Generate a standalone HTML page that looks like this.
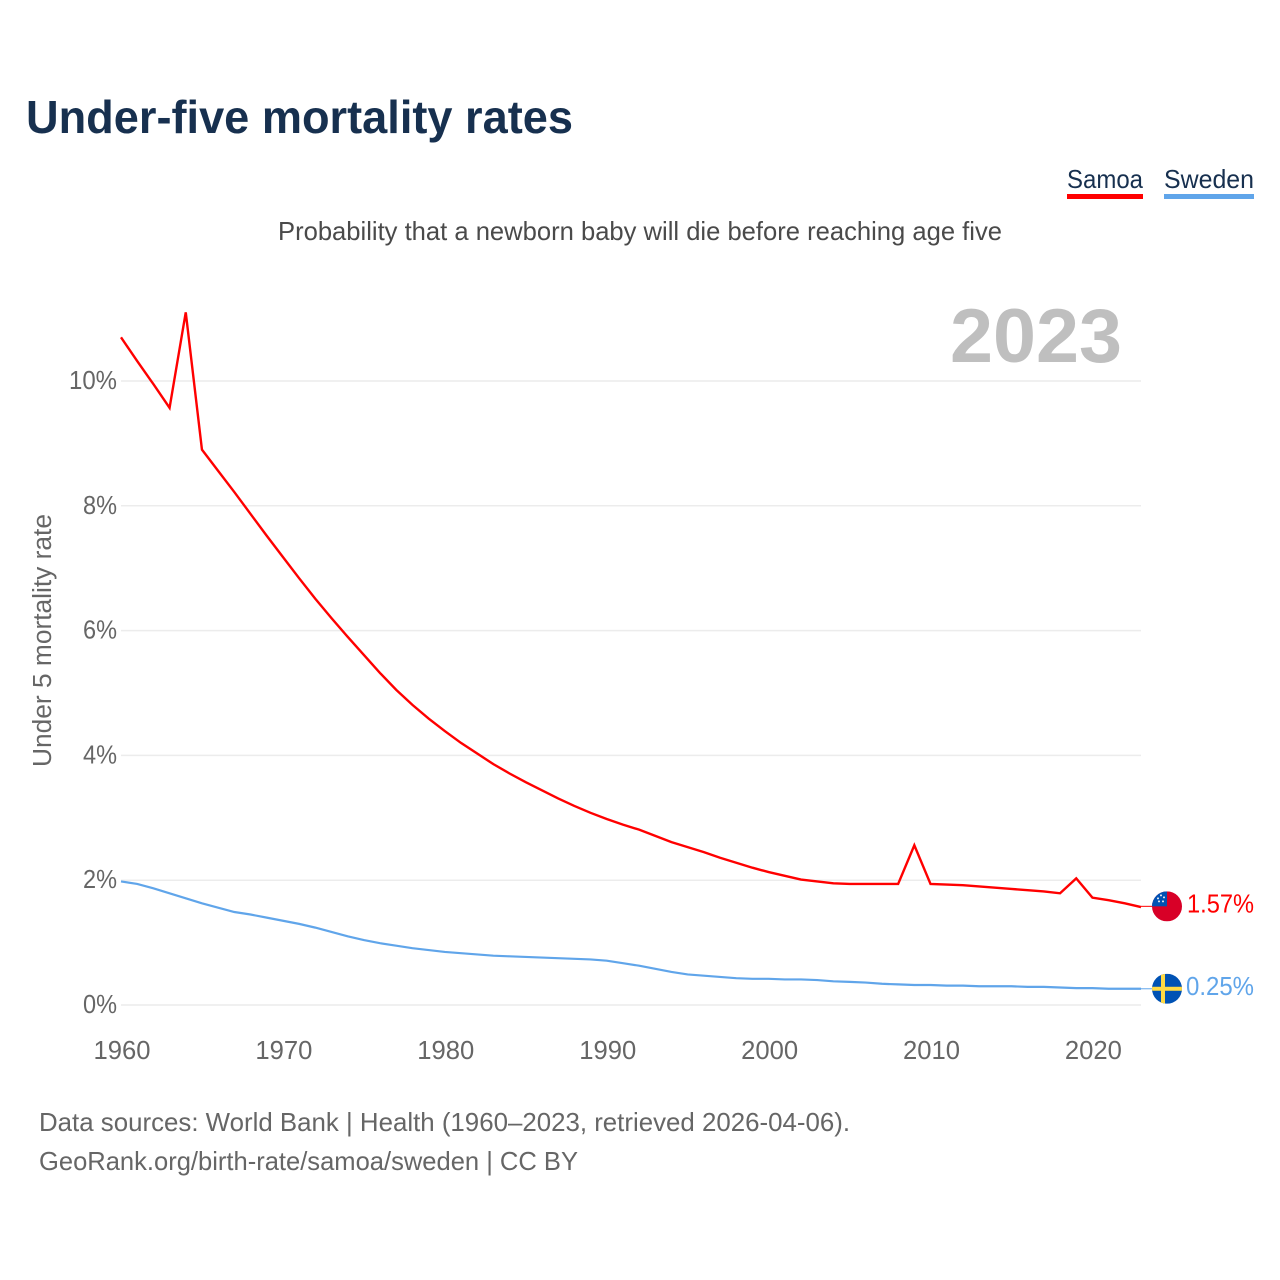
<!DOCTYPE html>
<html lang="en">
<head>
<meta charset="utf-8">
<title>Under-five mortality rates</title>
<style>
html,body{margin:0;padding:0;background:#fff;width:1280px;height:1280px;overflow:hidden}
svg{display:block}
text{font-family:"Liberation Sans",sans-serif}
</style>
</head>
<body>
<svg id="chart" xmlns="http://www.w3.org/2000/svg" width="1280" height="1280" viewBox="0 0 1280 1280">
  <defs>
    <clipPath id="clip-samoa"><circle id="clip-samoa-c" cx="0" cy="0" r="15"/></clipPath>
    <clipPath id="clip-sweden"><circle id="clip-sweden-c" cx="0" cy="0" r="15"/></clipPath>
  </defs>
  <rect width="1280" height="1280" fill="#fff"/>
  <text x="26" y="133" font-size="46" font-weight="700" fill="#17304f" textLength="547" lengthAdjust="spacingAndGlyphs">Under-five mortality rates</text>

  <g>
    <text x="1067" y="188" font-size="26" fill="#17304f" textLength="76" lengthAdjust="spacingAndGlyphs">Samoa</text>
    <rect x="1067" y="194" width="76" height="5" fill="#ff0000"/>
  </g>
  <g>
    <text x="1164" y="188" font-size="26" fill="#17304f" textLength="90" lengthAdjust="spacingAndGlyphs">Sweden</text>
    <rect x="1164" y="194" width="90" height="5" fill="#60a5ea"/>
  </g>

  <text x="278" y="240" font-size="26" fill="#4a4a4a" textLength="724" lengthAdjust="spacingAndGlyphs">Probability that a newborn baby will die before reaching age five</text>
  <text x="950" y="362" font-size="76" font-weight="700" fill="#bfbfbf" textLength="172" lengthAdjust="spacingAndGlyphs">2023</text>

  <g id="grid"></g>
  <g id="yticks"></g>
  <g id="xticks"></g>
  <text transform="translate(51,767) rotate(-90)" x="0" y="0" font-size="25.5" fill="#666" textLength="253" lengthAdjust="spacingAndGlyphs">Under 5 mortality rate</text>

  <g id="series"></g>
  <g id="endmarks"></g>

  <text x="39" y="1131" font-size="26" fill="#666" textLength="811" lengthAdjust="spacingAndGlyphs">Data sources: World Bank | Health (1960–2023, retrieved 2026-04-06).</text>
  <text x="39" y="1170" font-size="26" fill="#666" textLength="539" lengthAdjust="spacingAndGlyphs">GeoRank.org/birth-rate/samoa/sweden | CC BY</text>
</svg>
<script>
const years = [1960,1961,1962,1963,1964,1965,1966,1967,1968,1969,1970,1971,1972,1973,1974,1975,1976,1977,1978,1979,1980,1981,1982,1983,1984,1985,1986,1987,1988,1989,1990,1991,1992,1993,1994,1995,1996,1997,1998,1999,2000,2001,2002,2003,2004,2005,2006,2007,2008,2009,2010,2011,2012,2013,2014,2015,2016,2017,2018,2019,2020,2021,2022,2023];
const samoaValues = [10.7,10.32,9.95,9.57,11.1,8.9,8.56,8.22,7.87,7.52,7.18,6.84,6.51,6.2,5.9,5.61,5.32,5.05,4.81,4.59,4.39,4.2,4.03,3.86,3.71,3.57,3.44,3.31,3.19,3.08,2.98,2.89,2.81,2.71,2.61,2.53,2.45,2.36,2.28,2.2,2.13,2.07,2.01,1.98,1.95,1.94,1.94,1.94,1.94,2.56,1.94,1.93,1.92,1.9,1.88,1.86,1.84,1.82,1.79,2.03,1.72,1.68,1.63,1.57];
const swedenValues = [1.98,1.94,1.87,1.79,1.71,1.63,1.56,1.49,1.45,1.4,1.35,1.3,1.24,1.17,1.1,1.04,0.99,0.95,0.91,0.88,0.85,0.83,0.81,0.79,0.78,0.77,0.76,0.75,0.74,0.73,0.71,0.67,0.63,0.58,0.53,0.49,0.47,0.45,0.43,0.42,0.42,0.41,0.41,0.4,0.38,0.37,0.36,0.34,0.33,0.32,0.32,0.31,0.31,0.3,0.3,0.3,0.29,0.29,0.28,0.27,0.27,0.26,0.26,0.26];
const endValueLabels = ['1.57%','0.25%'];
const yTickValues = [0,2,4,6,8,10];
const xTickValues = [1960,1970,1980,1990,2000,2010,2020];

const NS = 'http://www.w3.org/2000/svg';
const x = function (year) { return 121 + (year - 1960) * (1141 - 121) / (2023 - 1960); };
const y = function (value) { return 1005 - value * 62.4; };
function make(tag, parent, props) {
  const el = document.createElementNS(NS, tag);
  for (const k in props) el.setAttribute(k, props[k]);
  parent.appendChild(el);
  return el;
}

const grid = document.getElementById('grid');
const yticks = document.getElementById('yticks');
yTickValues.forEach(function (v) {
  const line = make('line', grid, {x1: 121, x2: 1141, y1: y(v), y2: y(v), stroke: '#ececec', 'stroke-width': 1.5});
  
  
  const label = make('text', yticks, {x: 117, y: y(v) + 8, 'font-size': 25.5, fill: '#666', 'text-anchor': 'end', textLength: v >= 10 ? 48 : 34, lengthAdjust: 'spacingAndGlyphs'});
  label.textContent = v + '%';
  
  
});

const xticks = document.getElementById('xticks');
xTickValues.forEach(function (yr) {
  const label = make('text', xticks, {x: x(yr) + 1, y: 1059, 'font-size': 25.5, fill: '#666', 'text-anchor': 'middle', textLength: 57, lengthAdjust: 'spacingAndGlyphs'});
  label.textContent = String(yr);
  
  
});

const seriesGroup = document.getElementById('series');
function pathFor(values) {
  return values.map(function (v, i) {
    return (i ? 'L' : 'M') + x(years[i]).toFixed(2) + ' ' + y(v).toFixed(2);
  }).join(' ');
}
const swedenLine = make('path', seriesGroup, {d: pathFor(swedenValues), fill: 'none', stroke: '#60a5ea', 'stroke-width': 2.2, 'stroke-linejoin': 'miter'});


const samoaLine = make('path', seriesGroup, {d: pathFor(samoaValues), fill: 'none', stroke: '#ff0000', 'stroke-width': 2.4, 'stroke-linejoin': 'miter'});



const endmarks = document.getElementById('endmarks');
const FX = 1167;

// Samoa end marker
const samoaLast = samoaValues[samoaValues.length - 1];
const samoaY = y(samoaLast) - 0.7;
const samoaLeader = make('line', endmarks, {x1: 1141, x2: 1152, y1: samoaY, y2: samoaY, stroke: '#ff0000', 'stroke-width': 1});


document.getElementById('clip-samoa-c').setAttribute('cx', FX);
document.getElementById('clip-samoa-c').setAttribute('cy', samoaY);
const samoaFlag = make('g', endmarks, {'clip-path': 'url(#clip-samoa)'});


make('rect', samoaFlag, {x: FX - 15, y: samoaY - 15, width: 30, height: 30, fill: '#d80027'});
make('rect', samoaFlag, {x: FX - 15, y: samoaY - 15, width: 15, height: 15, fill: '#0052b4'});
[[-9,-8],[-6,-11],[-3,-9],[-4,-5],[-8,-5]].forEach(function (p) {
  make('circle', samoaFlag, {cx: FX + p[0], cy: samoaY + p[1], r: 1, fill: '#f0f0f0'});
});
const samoaValueLabel = make('text', endmarks, {x: 1187, y: samoaY + 6, 'font-size': 25.5, fill: '#ff0000', textLength: 67, lengthAdjust: 'spacingAndGlyphs'});
samoaValueLabel.textContent = endValueLabels[0];



// Sweden end marker
const swedenLast = swedenValues[swedenValues.length - 1];
const swedenY = y(swedenLast);
const swedenLeader = make('line', endmarks, {x1: 1141, x2: 1152, y1: swedenY, y2: swedenY, stroke: '#60a5ea', 'stroke-width': 1});


document.getElementById('clip-sweden-c').setAttribute('cx', FX);
document.getElementById('clip-sweden-c').setAttribute('cy', swedenY);
const swedenFlag = make('g', endmarks, {'clip-path': 'url(#clip-sweden)'});


make('rect', swedenFlag, {x: FX - 15, y: swedenY - 15, width: 30, height: 30, fill: '#0052b4'});
make('rect', swedenFlag, {x: FX - 15, y: swedenY - 2, width: 30, height: 4, fill: '#ffda44'});
make('rect', swedenFlag, {x: FX - 6, y: swedenY - 15, width: 4, height: 30, fill: '#ffda44'});
const swedenValueLabel = make('text', endmarks, {x: 1186, y: swedenY + 6, 'font-size': 25.5, fill: '#60a5ea', textLength: 68, lengthAdjust: 'spacingAndGlyphs'});
swedenValueLabel.textContent = endValueLabels[1];


</script>
</body>
</html>
